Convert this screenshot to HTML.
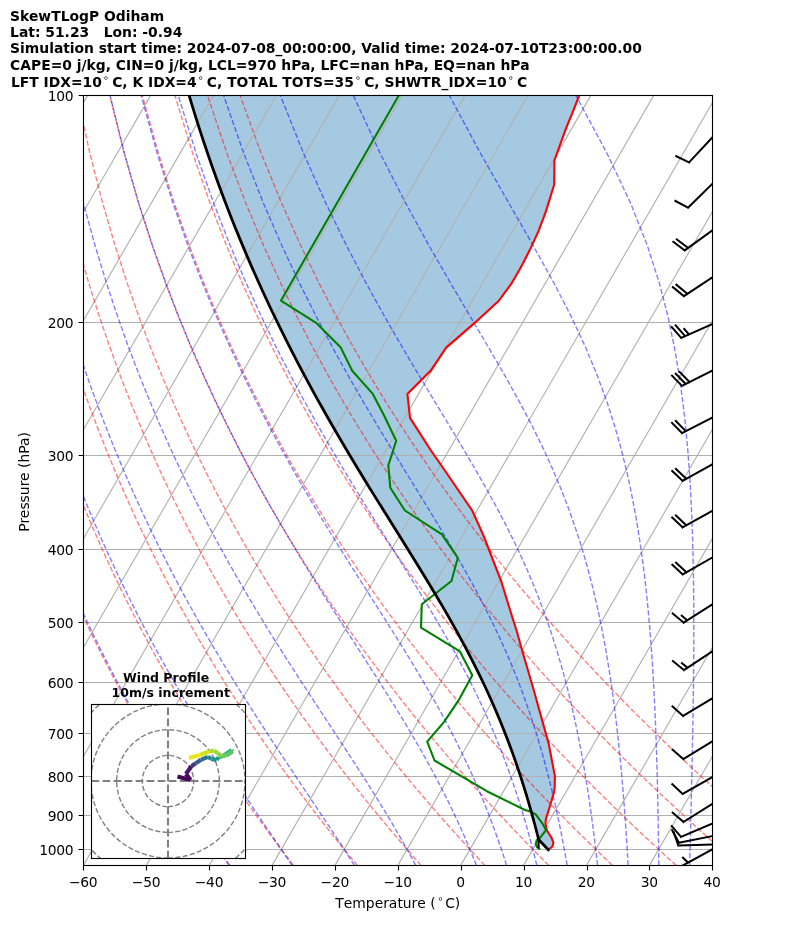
<!DOCTYPE html>
<html lang="en"><head><meta charset="utf-8"><title>SkewTLogP Odiham</title>
<style>html,body{margin:0;padding:0;background:#fff}body{width:794px;height:937px;overflow:hidden}svg{display:block}text{font-family:"DejaVu Sans","Liberation Sans",sans-serif;font-size:13.89px;fill:#000}.b{font-weight:bold}.g{stroke:#b0b0b0;stroke-width:1.11;fill:none}.da{stroke:#ff0000;stroke-opacity:.5;stroke-width:1.39;stroke-dasharray:5.14 2.22;fill:none}.ma{stroke:#0000ff;stroke-opacity:.5;stroke-width:1.39;stroke-dasharray:5.14 2.22;fill:none}.tk{stroke:#000;stroke-width:1.11}.t{letter-spacing:-0.28px}.brb{stroke:#000;stroke-width:2;fill:none;stroke-linejoin:miter;stroke-linecap:square}</style></head><body>
<svg width="794" height="937" viewBox="0 0 794 937">
<rect width="794" height="937" fill="#fff"/>
<defs><clipPath id="ax"><rect x="83.4" y="95.4" width="628.9" height="769.98"/></clipPath>
<clipPath id="hd"><rect x="91" y="704" width="154.5" height="154.5"/></clipPath></defs>
<g clip-path="url(#ax)">
<polygon points="548.3,849.8 538.61,839.43 538.19,837.73 536.6,831.5 534.98,825.26 533.3,819.02 531.58,812.78 529.82,806.54 528,800.31 526.14,794.07 524.22,787.83 522.26,781.59 520.24,775.35 518.16,769.11 516.03,762.88 513.84,756.64 511.59,750.4 509.29,744.16 506.92,737.92 504.49,731.69 502,725.45 499.45,719.21 496.83,712.97 494.15,706.73 491.4,700.5 488.59,694.26 485.72,688.02 482.78,681.78 479.77,675.54 476.7,669.3 473.57,663.07 470.38,656.83 467.13,650.59 463.82,644.35 460.45,638.11 457.03,631.88 453.55,625.64 450.03,619.4 446.45,613.16 442.84,606.92 439.18,600.69 435.48,594.45 431.74,588.21 427.98,581.97 424.18,575.73 420.36,569.5 416.52,563.26 412.66,557.02 408.78,550.78 404.9,544.54 401,538.3 397.1,532.07 393.2,525.83 389.3,519.59 385.41,513.35 381.52,507.11 377.64,500.88 373.78,494.64 369.92,488.4 366.09,482.16 362.27,475.92 358.48,469.69 354.7,463.45 350.95,457.21 347.23,450.97 343.53,444.73 339.86,438.5 336.22,432.26 332.6,426.02 329.02,419.78 325.47,413.54 321.95,407.3 318.46,401.07 315.01,394.83 311.59,388.59 308.2,382.35 304.85,376.11 301.53,369.88 298.24,363.64 295,357.4 291.78,351.16 288.6,344.92 285.46,338.69 282.35,332.45 279.27,326.21 276.23,319.97 273.23,313.73 270.26,307.5 267.32,301.26 264.42,295.02 261.55,288.78 258.72,282.54 255.92,276.3 253.16,270.07 250.43,263.83 247.74,257.59 245.08,251.35 242.45,245.11 239.86,238.88 237.3,232.64 234.77,226.4 232.28,220.16 229.82,213.92 227.39,207.69 225,201.45 222.64,195.21 220.31,188.97 218.01,182.73 215.74,176.5 213.51,170.26 211.3,164.02 209.13,157.78 206.99,151.54 204.89,145.3 202.81,139.07 200.76,132.83 198.75,126.59 196.76,120.35 194.8,114.11 192.88,107.88 190.98,101.64 189.12,95.4 579.3,95.3 572.5,112.7 566.2,127.8 561.2,141.6 554.4,160.5 554.2,184.5 546.1,210.9 538.5,231.1 531,247.4 523.4,262.5 519.3,270 511.2,283.9 498.6,301 475.2,322.4 446.2,347.6 430.6,370.8 407.4,393.9 410,417.9 430.6,450 444.5,470 472.2,510.5 483.5,535.6 501.1,581 511.2,613.7 516.4,630 522,650 533.5,689.2 548.6,743.4 554.9,776.1 554.7,786 554.2,791.2 551.7,800.2 548.7,810 545.8,819.4 545.5,824.5 547.1,830.8 551.5,837.7 553.4,842.7 552.4,846.5 549,849.3 548.3,849.8" fill="#1f77b4" fill-opacity=".4"/>
<path class="g" d="M-356.83 865.38L87.72 95.4M-293.94 865.38L150.61 95.4M-231.05 865.38L213.5 95.4M-168.16 865.38L276.39 95.4M-105.27 865.38L339.28 95.4M-42.38 865.38L402.17 95.4M20.51 865.38L465.06 95.4M83.4 865.38L527.95 95.4M146.29 865.38L590.84 95.4M209.18 865.38L653.73 95.4M272.07 865.38L716.62 95.4M334.96 865.38L779.51 95.4M397.85 865.38L842.4 95.4M460.74 865.38L905.29 95.4M523.63 865.38L968.18 95.4M586.52 865.38L1031.07 95.4M649.41 865.38L1093.96 95.4M712.3 865.38L1156.85 95.4"/>
<path d="M83.4 95.5H712.3M83.4 322.5H712.3M83.4 455.5H712.3M83.4 549.5H712.3M83.4 622.5H712.3M83.4 682.5H712.3M83.4 733.5H712.3M83.4 776.5H712.3M83.4 815.5H712.3M83.4 849.5H712.3" stroke="#b0b0b0" stroke-width="1" fill="none"/>
<polyline class="da" points="229.77,865.38 225.39,859.27 220.98,853.06 216.53,846.72 212.03,840.25 207.49,833.66 202.91,826.93 198.28,820.06 193.61,813.04 188.89,805.86 184.12,798.53 179.3,791.03 174.43,783.35 169.51,775.49 164.53,767.44 159.5,759.18 154.41,750.71 149.26,742.01 144.05,733.08 138.78,723.9 133.45,714.45 128.04,704.72 122.58,694.69 117.04,684.35 111.43,673.66 105.74,662.62 99.98,651.19 94.14,639.35 88.22,627.07 82.21,614.3 76.12,601.02 69.93,587.18 63.66,572.72 57.29,557.6 50.83,541.75 44.27,525.09 37.61,507.53 30.85,488.98 23.99,469.32 17.04,448.4 9.98,426.05 2.84,402.06 -4.38,376.18 -11.65,348.07 -18.96,317.33 -26.26,283.39 -33.48,245.53 -40.51,202.7 -47.16,153.43 -53.1,95.4"/>
<polyline class="da" points="293.54,865.38 288.83,859.27 284.07,853.06 279.27,846.72 274.42,840.25 269.52,833.66 264.58,826.93 259.58,820.06 254.54,813.04 249.43,805.86 244.28,798.53 239.07,791.03 233.8,783.35 228.47,775.49 223.08,767.44 217.63,759.18 212.11,750.71 206.52,742.01 200.87,733.08 195.15,723.9 189.35,714.45 183.48,704.72 177.52,694.69 171.49,684.35 165.38,673.66 159.17,662.62 152.88,651.19 146.5,639.35 140.02,627.07 133.44,614.3 126.75,601.02 119.96,587.18 113.06,572.72 106.05,557.6 98.92,541.75 91.66,525.09 84.28,507.53 76.77,488.98 69.13,469.32 61.36,448.4 53.45,426.05 45.41,402.06 37.24,376.18 28.95,348.07 20.57,317.33 12.12,283.39 3.65,245.53 -4.74,202.7 -12.89,153.43 -20.52,95.4"/>
<polyline class="da" points="357.31,865.38 352.26,859.27 347.16,853.06 342.01,846.72 336.81,840.25 331.56,833.66 326.25,826.93 320.88,820.06 315.46,813.04 309.98,805.86 304.44,798.53 298.83,791.03 293.17,783.35 287.43,775.49 281.63,767.44 275.76,759.18 269.81,750.71 263.79,742.01 257.69,733.08 251.51,723.9 245.25,714.45 238.91,704.72 232.47,694.69 225.95,684.35 219.33,673.66 212.61,662.62 205.78,651.19 198.86,639.35 191.82,627.07 184.66,614.3 177.39,601.02 169.99,587.18 162.46,572.72 154.8,557.6 147,541.75 139.05,525.09 130.95,507.53 122.69,488.98 114.27,469.32 105.68,448.4 96.92,426.05 87.98,402.06 78.86,376.18 69.56,348.07 60.1,317.33 50.5,283.39 40.78,245.53 31.03,202.7 21.37,153.43 12.05,95.4"/>
<polyline class="da" points="421.08,865.38 415.69,859.27 410.25,853.06 404.75,846.72 399.2,840.25 393.59,833.66 387.92,826.93 382.18,820.06 376.39,813.04 370.53,805.86 364.6,798.53 358.6,791.03 352.53,783.35 346.39,775.49 340.18,767.44 333.89,759.18 327.51,750.71 321.06,742.01 314.51,733.08 307.88,723.9 301.16,714.45 294.34,704.72 287.42,694.69 280.4,684.35 273.28,673.66 266.04,662.62 258.69,651.19 251.21,639.35 243.62,627.07 235.89,614.3 228.03,601.02 220.02,587.18 211.87,572.72 203.56,557.6 195.08,541.75 186.44,525.09 177.62,507.53 168.61,488.98 159.41,469.32 150,448.4 140.38,426.05 130.54,402.06 120.47,376.18 110.17,348.07 99.63,317.33 88.88,283.39 77.92,245.53 66.8,202.7 55.64,153.43 44.62,95.4"/>
<polyline class="da" points="484.86,865.38 479.13,859.27 473.34,853.06 467.5,846.72 461.59,840.25 455.62,833.66 449.59,826.93 443.48,820.06 437.31,813.04 431.07,805.86 424.76,798.53 418.37,791.03 411.9,783.35 405.36,775.49 398.73,767.44 392.01,759.18 385.21,750.71 378.32,742.01 371.33,733.08 364.25,723.9 357.06,714.45 349.77,704.72 342.37,694.69 334.86,684.35 327.23,673.66 319.47,662.62 311.59,651.19 303.57,639.35 295.42,627.07 287.12,614.3 278.66,601.02 270.05,587.18 261.27,572.72 252.31,557.6 243.17,541.75 233.83,525.09 224.29,507.53 214.53,488.98 204.55,469.32 194.33,448.4 183.85,426.05 173.11,402.06 162.09,376.18 150.78,348.07 139.17,317.33 127.26,283.39 115.05,245.53 102.57,202.7 89.9,153.43 77.2,95.4"/>
<polyline class="da" points="548.63,865.38 542.56,859.27 536.43,853.06 530.24,846.72 523.98,840.25 517.65,833.66 511.25,826.93 504.78,820.06 498.24,813.04 491.62,805.86 484.92,798.53 478.14,791.03 471.27,783.35 464.32,775.49 457.28,767.44 450.14,759.18 442.91,750.71 435.59,742.01 428.15,733.08 420.62,723.9 412.97,714.45 405.2,704.72 397.32,694.69 389.31,684.35 381.18,673.66 372.9,662.62 364.49,651.19 355.93,639.35 347.22,627.07 338.34,614.3 329.3,601.02 320.08,587.18 310.67,572.72 301.06,557.6 291.25,541.75 281.22,525.09 270.96,507.53 260.46,488.98 249.69,469.32 238.65,448.4 227.32,426.05 215.68,402.06 203.7,376.18 191.39,348.07 178.7,317.33 165.64,283.39 152.18,245.53 138.34,202.7 124.17,153.43 109.77,95.4"/>
<polyline class="da" points="612.4,865.38 606,859.27 599.52,853.06 592.98,846.72 586.37,840.25 579.68,833.66 572.92,826.93 566.08,820.06 559.17,813.04 552.16,805.86 545.08,798.53 537.9,791.03 530.64,783.35 523.28,775.49 515.83,767.44 508.27,759.18 500.62,750.71 492.85,742.01 484.97,733.08 476.98,723.9 468.87,714.45 460.63,704.72 452.27,694.69 443.77,684.35 435.12,673.66 426.34,662.62 417.39,651.19 408.29,639.35 399.02,627.07 389.57,614.3 379.93,601.02 370.11,587.18 360.07,572.72 349.82,557.6 339.34,541.75 328.61,525.09 317.63,507.53 306.38,488.98 294.83,469.32 282.97,448.4 270.79,426.05 258.24,402.06 245.32,376.18 231.99,348.07 218.23,317.33 204.02,283.39 189.31,245.53 174.12,202.7 158.44,153.43 142.35,95.4"/>
<polyline class="da" points="676.17,865.38 669.43,859.27 662.62,853.06 655.73,846.72 648.76,840.25 641.72,833.66 634.59,826.93 627.38,820.06 620.09,813.04 612.71,805.86 605.24,798.53 597.67,791.03 590.01,783.35 582.24,775.49 574.38,767.44 566.4,759.18 558.32,750.71 550.12,742.01 541.79,733.08 533.35,723.9 524.77,714.45 516.07,704.72 507.22,694.69 498.22,684.35 489.07,673.66 479.77,662.62 470.3,651.19 460.65,639.35 450.82,627.07 440.8,614.3 430.57,601.02 420.13,587.18 409.47,572.72 398.57,557.6 387.42,541.75 376,525.09 364.3,507.53 352.3,488.98 339.97,469.32 327.3,448.4 314.25,426.05 300.81,402.06 286.94,376.18 272.6,348.07 257.77,317.33 242.39,283.39 226.45,245.53 209.89,202.7 192.7,153.43 174.92,95.4"/>
<polyline class="da" points="739.95,865.38 732.87,859.27 725.71,853.06 718.47,846.72 711.15,840.25 703.75,833.66 696.26,826.93 688.68,820.06 681.02,813.04 673.26,805.86 665.4,798.53 657.44,791.03 649.38,783.35 641.21,775.49 632.93,767.44 624.53,759.18 616.02,750.71 607.38,742.01 598.61,733.08 589.72,723.9 580.68,714.45 571.5,704.72 562.17,694.69 552.68,684.35 543.02,673.66 533.2,662.62 523.2,651.19 513.01,639.35 502.62,627.07 492.02,614.3 481.21,601.02 470.16,587.18 458.87,572.72 447.33,557.6 435.51,541.75 423.39,525.09 410.97,507.53 398.22,488.98 385.11,469.32 371.62,448.4 357.72,426.05 343.38,402.06 328.55,376.18 313.21,348.07 297.3,317.33 280.77,283.39 263.58,245.53 245.66,202.7 226.97,153.43 207.49,95.4"/>
<polyline class="da" points="803.72,865.38 796.3,859.27 788.8,853.06 781.21,846.72 773.54,840.25 765.78,833.66 757.93,826.93 749.98,820.06 741.94,813.04 733.8,805.86 725.56,798.53 717.21,791.03 708.74,783.35 700.17,775.49 691.48,767.44 682.66,759.18 673.72,750.71 664.65,742.01 655.44,733.08 646.08,723.9 636.58,714.45 626.93,704.72 617.11,694.69 607.13,684.35 596.97,673.66 586.63,662.62 576.1,651.19 565.37,639.35 554.42,627.07 543.25,614.3 531.84,601.02 520.19,587.18 508.28,572.72 496.08,557.6 483.59,541.75 470.78,525.09 457.64,507.53 444.14,488.98 430.25,469.32 415.94,448.4 401.19,426.05 385.94,402.06 370.17,376.18 353.82,348.07 336.83,317.33 319.15,283.39 300.71,245.53 281.43,202.7 261.23,153.43 240.07,95.4"/>
<polyline class="ma" points="229.2,865.38 225.06,859.27 220.86,853.06 216.61,846.72 212.29,840.25 207.92,833.66 203.48,826.93 198.99,820.06 194.44,813.04 189.83,805.86 185.15,798.53 180.42,791.03 175.62,783.35 170.76,775.49 165.84,767.44 160.85,759.18 155.8,750.71 150.69,742.01 145.5,733.08 140.25,723.9 134.93,714.45 129.54,704.72 124.08,694.69 118.54,684.35 112.93,673.66 107.24,662.62 101.47,651.19 95.63,639.35 89.69,627.07 83.67,614.3 77.57,601.02 71.37,587.18 65.08,572.72 58.7,557.6 52.22,541.75 45.64,525.09 38.96,507.53 32.18,488.98 25.29,469.32 18.31,448.4 11.24,426.05 4.07,402.06 -3.18,376.18 -10.48,348.07 -17.83,317.33 -25.16,283.39 -32.41,245.53 -39.48,202.7 -46.17,153.43 -52.16,95.4"/>
<polyline class="ma" points="292.17,865.38 288.02,859.27 283.78,853.06 279.47,846.72 275.07,840.25 270.59,833.66 266.03,826.93 261.38,820.06 256.65,813.04 251.84,805.86 246.94,798.53 241.96,791.03 236.9,783.35 231.75,775.49 226.52,767.44 221.21,759.18 215.81,750.71 210.32,742.01 204.75,733.08 199.09,723.9 193.35,714.45 187.51,704.72 181.59,694.69 175.57,684.35 169.46,673.66 163.25,662.62 156.95,651.19 150.55,639.35 144.04,627.07 137.43,614.3 130.72,601.02 123.89,587.18 116.95,572.72 109.89,557.6 102.71,541.75 95.4,525.09 87.96,507.53 80.4,488.98 72.7,469.32 64.86,448.4 56.88,426.05 48.77,402.06 40.53,376.18 32.16,348.07 23.69,317.33 15.15,283.39 6.58,245.53 -1.91,202.7 -10.19,153.43 -17.95,95.4"/>
<polyline class="ma" points="354.42,865.38 350.54,859.27 346.55,853.06 342.45,846.72 338.23,840.25 333.91,833.66 329.47,826.93 324.92,820.06 320.25,813.04 315.46,805.86 310.56,798.53 305.54,791.03 300.4,783.35 295.14,775.49 289.76,767.44 284.27,759.18 278.65,750.71 272.91,742.01 267.06,733.08 261.08,723.9 254.99,714.45 248.78,704.72 242.44,694.69 235.98,684.35 229.41,673.66 222.7,662.62 215.88,651.19 208.93,639.35 201.85,627.07 194.63,614.3 187.29,601.02 179.8,587.18 172.18,572.72 164.41,557.6 156.49,541.75 148.42,525.09 140.18,507.53 131.78,488.98 123.21,469.32 114.46,448.4 105.52,426.05 96.41,402.06 87.1,376.18 77.6,348.07 67.93,317.33 58.1,283.39 48.14,245.53 38.12,202.7 28.16,153.43 18.5,95.4"/>
<polyline class="ma" points="415.79,865.38 412.5,859.27 409.1,853.06 405.58,846.72 401.92,840.25 398.13,833.66 394.21,826.93 390.14,820.06 385.93,813.04 381.56,805.86 377.05,798.53 372.37,791.03 367.53,783.35 362.53,775.49 357.36,767.44 352.01,759.18 346.5,750.71 340.81,742.01 334.95,733.08 328.92,723.9 322.7,714.45 316.31,704.72 309.75,694.69 303,684.35 296.08,673.66 288.99,662.62 281.72,651.19 274.27,639.35 266.65,627.07 258.85,614.3 250.87,601.02 242.71,587.18 234.36,572.72 225.83,557.6 217.11,541.75 208.19,525.09 199.07,507.53 189.74,488.98 180.2,469.32 170.42,448.4 160.41,426.05 150.16,402.06 139.66,376.18 128.89,348.07 117.86,317.33 106.57,283.39 95.03,245.53 83.29,202.7 71.44,153.43 59.64,95.4"/>
<polyline class="ma" points="476.43,865.38 474.01,859.27 471.48,853.06 468.84,846.72 466.09,840.25 463.21,833.66 460.2,826.93 457.06,820.06 453.77,813.04 450.32,805.86 446.72,798.53 442.94,791.03 438.98,783.35 434.83,775.49 430.49,767.44 425.94,759.18 421.17,750.71 416.17,742.01 410.94,733.08 405.46,723.9 399.73,714.45 393.75,704.72 387.5,694.69 380.98,684.35 374.18,673.66 367.11,662.62 359.76,651.19 352.14,639.35 344.23,627.07 336.05,614.3 327.58,601.02 318.85,587.18 309.83,572.72 300.55,557.6 290.98,541.75 281.14,525.09 271.03,507.53 260.62,488.98 249.93,469.32 238.94,448.4 227.64,426.05 216.01,402.06 204.04,376.18 191.72,348.07 179.03,317.33 165.96,283.39 152.5,245.53 138.65,202.7 124.46,153.43 110.05,95.4"/>
<polyline class="ma" points="506.64,865.38 504.68,859.27 502.64,853.06 500.5,846.72 498.26,840.25 495.92,833.66 493.47,826.93 490.9,820.06 488.2,813.04 485.36,805.86 482.37,798.53 479.23,791.03 475.92,783.35 472.44,775.49 468.76,767.44 464.88,759.18 460.79,750.71 456.47,742.01 451.91,733.08 447.08,723.9 441.99,714.45 436.61,704.72 430.93,694.69 424.94,684.35 418.62,673.66 411.97,662.62 404.97,651.19 397.61,639.35 389.9,627.07 381.82,614.3 373.38,601.02 364.57,587.18 355.4,572.72 345.86,557.6 335.96,541.75 325.71,525.09 315.1,507.53 304.13,488.98 292.8,469.32 281.11,448.4 269.05,426.05 256.6,402.06 243.75,376.18 230.48,348.07 216.77,317.33 202.6,283.39 187.95,245.53 172.8,202.7 157.18,153.43 141.15,95.4"/>
<polyline class="ma" points="536.86,865.38 535.36,859.27 533.79,853.06 532.16,846.72 530.44,840.25 528.64,833.66 526.76,826.93 524.77,820.06 522.68,813.04 520.49,805.86 518.17,798.53 515.72,791.03 513.14,783.35 510.4,775.49 507.5,767.44 504.43,759.18 501.17,750.71 497.7,742.01 494.01,733.08 490.08,723.9 485.9,714.45 481.43,704.72 476.67,694.69 471.58,684.35 466.15,673.66 460.34,662.62 454.15,651.19 447.54,639.35 440.49,627.07 432.99,614.3 425.02,601.02 416.57,587.18 407.62,572.72 398.17,557.6 388.22,541.75 377.78,525.09 366.84,507.53 355.41,488.98 343.49,469.32 331.1,448.4 318.23,426.05 304.87,402.06 291.01,376.18 276.64,348.07 261.74,317.33 246.27,283.39 230.2,245.53 213.51,202.7 196.17,153.43 178.22,95.4"/>
<polyline class="ma" points="567.15,865.38 566.09,859.27 564.97,853.06 563.8,846.72 562.58,840.25 561.29,833.66 559.94,826.93 558.53,820.06 557.03,813.04 555.45,805.86 553.79,798.53 552.03,791.03 550.16,783.35 548.19,775.49 546.09,767.44 543.85,759.18 541.47,750.71 538.93,742.01 536.22,733.08 533.31,723.9 530.19,714.45 526.84,704.72 523.24,694.69 519.35,684.35 515.15,673.66 510.62,662.62 505.71,651.19 500.39,639.35 494.62,627.07 488.37,614.3 481.58,601.02 474.23,587.18 466.26,572.72 457.65,557.6 448.36,541.75 438.37,525.09 427.67,507.53 416.24,488.98 404.1,469.32 391.25,448.4 377.69,426.05 363.45,402.06 348.53,376.18 332.93,348.07 316.63,317.33 299.61,283.39 281.84,245.53 263.26,202.7 243.84,153.43 223.53,95.4"/>
<polyline class="ma" points="597.57,865.38 596.89,859.27 596.17,853.06 595.43,846.72 594.64,840.25 593.82,833.66 592.96,826.93 592.04,820.06 591.08,813.04 590.07,805.86 589,798.53 587.86,791.03 586.66,783.35 585.38,775.49 584.02,767.44 582.57,759.18 581.02,750.71 579.36,742.01 577.58,733.08 575.67,723.9 573.61,714.45 571.38,704.72 568.98,694.69 566.37,684.35 563.54,673.66 560.45,662.62 557.07,651.19 553.37,639.35 549.31,627.07 544.84,614.3 539.9,601.02 534.44,587.18 528.38,572.72 521.66,557.6 514.2,541.75 505.91,525.09 496.72,507.53 486.55,488.98 475.33,469.32 463.03,448.4 449.62,426.05 435.09,402.06 419.47,376.18 402.78,348.07 385.04,317.33 366.27,283.39 346.47,245.53 325.59,202.7 303.57,153.43 280.32,95.4"/>
<polyline class="ma" points="628.13,865.38 627.78,859.27 627.41,853.06 627.03,846.72 626.62,840.25 626.19,833.66 625.74,826.93 625.27,820.06 624.77,813.04 624.23,805.86 623.67,798.53 623.07,791.03 622.43,783.35 621.74,775.49 621.01,767.44 620.23,759.18 619.39,750.71 618.49,742.01 617.52,733.08 616.47,723.9 615.33,714.45 614.1,704.72 612.76,694.69 611.3,684.35 609.7,673.66 607.94,662.62 606.01,651.19 603.87,639.35 601.5,627.07 598.87,614.3 595.93,601.02 592.63,587.18 588.91,572.72 584.7,557.6 579.92,541.75 574.47,525.09 568.22,507.53 561.04,488.98 552.77,469.32 543.22,448.4 532.22,426.05 519.59,402.06 505.19,376.18 488.91,348.07 470.75,317.33 450.74,283.39 428.95,245.53 405.45,202.7 380.25,153.43 353.29,95.4"/>
<polyline class="ma" points="658.83,865.38 658.76,859.27 658.68,853.06 658.6,846.72 658.51,840.25 658.41,833.66 658.3,826.93 658.18,820.06 658.06,813.04 657.92,805.86 657.76,798.53 657.6,791.03 657.41,783.35 657.21,775.49 657,767.44 656.75,759.18 656.49,750.71 656.19,742.01 655.87,733.08 655.51,723.9 655.11,714.45 654.67,704.72 654.17,694.69 653.62,684.35 653.01,673.66 652.32,662.62 651.54,651.19 650.67,639.35 649.68,627.07 648.56,614.3 647.28,601.02 645.82,587.18 644.14,572.72 642.2,557.6 639.95,541.75 637.32,525.09 634.23,507.53 630.58,488.98 626.23,469.32 621.01,448.4 614.7,426.05 607,402.06 597.55,376.18 585.92,348.07 571.61,317.33 554.14,283.39 533.17,245.53 508.59,202.7 480.56,153.43 449.3,95.4"/>
<polyline class="ma" points="689.68,865.38 689.84,859.27 689.99,853.06 690.15,846.72 690.31,840.25 690.47,833.66 690.64,826.93 690.8,820.06 690.97,813.04 691.14,805.86 691.32,798.53 691.49,791.03 691.67,783.35 691.85,775.49 692.02,767.44 692.2,759.18 692.37,750.71 692.54,742.01 692.71,733.08 692.88,723.9 693.04,714.45 693.19,704.72 693.33,694.69 693.46,684.35 693.58,673.66 693.67,662.62 693.75,651.19 693.8,639.35 693.81,627.07 693.79,614.3 693.72,601.02 693.59,587.18 693.38,572.72 693.09,557.6 692.68,541.75 692.13,525.09 691.41,507.53 690.46,488.98 689.24,469.32 687.64,448.4 685.57,426.05 682.87,402.06 679.3,376.18 674.56,348.07 668.17,317.33 659.44,283.39 647.33,245.53 630.42,202.7 607.04,153.43 575.87,95.4"/>
<polyline class="ma" points="720.66,865.38 720.99,859.27 721.33,853.06 721.67,846.72 722.03,840.25 722.4,833.66 722.77,826.93 723.16,820.06 723.56,813.04 723.97,805.86 724.39,798.53 724.83,791.03 725.27,783.35 725.74,775.49 726.21,767.44 726.7,759.18 727.2,750.71 727.72,742.01 728.25,733.08 728.8,723.9 729.37,714.45 729.95,704.72 730.55,694.69 731.17,684.35 731.81,673.66 732.47,662.62 733.14,651.19 733.84,639.35 734.55,627.07 735.28,614.3 736.04,601.02 736.81,587.18 737.59,572.72 738.38,557.6 739.19,541.75 739.99,525.09 740.8,507.53 741.59,488.98 742.34,469.32 743.05,448.4 743.68,426.05 744.17,402.06 744.47,376.18 744.47,348.07 744.02,317.33 742.84,283.39 740.52,245.53 736.27,202.7 728.67,153.43 714.92,95.4"/>
<polyline class="ma" points="751.75,865.38 752.21,859.27 752.69,853.06 753.18,846.72 753.68,840.25 754.2,833.66 754.74,826.93 755.29,820.06 755.86,813.04 756.45,805.86 757.06,798.53 757.68,791.03 758.33,783.35 759,775.49 759.69,767.44 760.41,759.18 761.15,750.71 761.92,742.01 762.72,733.08 763.54,723.9 764.4,714.45 765.29,704.72 766.21,694.69 767.18,684.35 768.18,673.66 769.22,662.62 770.31,651.19 771.45,639.35 772.63,627.07 773.87,614.3 775.17,601.02 776.53,587.18 777.96,572.72 779.46,557.6 781.04,541.75 782.7,525.09 784.46,507.53 786.31,488.98 788.27,469.32 790.34,448.4 792.53,426.05 794.85,402.06 797.31,376.18 799.91,348.07 802.64,317.33 805.49,283.39 808.4,245.53 811.25,202.7 813.78,153.43 815.34,95.4"/>
<polyline class="ma" points="782.94,865.38 783.5,859.27 784.07,853.06 784.67,846.72 785.28,840.25 785.91,833.66 786.56,826.93 787.23,820.06 787.93,813.04 788.64,805.86 789.38,798.53 790.15,791.03 790.94,783.35 791.75,775.49 792.6,767.44 793.48,759.18 794.39,750.71 795.33,742.01 796.31,733.08 797.33,723.9 798.39,714.45 799.49,704.72 800.64,694.69 801.83,684.35 803.08,673.66 804.39,662.62 805.75,651.19 807.18,639.35 808.68,627.07 810.26,614.3 811.92,601.02 813.67,587.18 815.51,572.72 817.46,557.6 819.53,541.75 821.73,525.09 824.07,507.53 826.57,488.98 829.25,469.32 832.13,448.4 835.24,426.05 838.6,402.06 842.27,376.18 846.28,348.07 850.7,317.33 855.59,283.39 861.07,245.53 867.24,202.7 874.27,153.43 882.34,95.4"/>
<polyline points="579.3,95.3 572.5,112.7 566.2,127.8 561.2,141.6 554.4,160.5 554.2,184.5 546.1,210.9 538.5,231.1 531,247.4 523.4,262.5 519.3,270 511.2,283.9 498.6,301 475.2,322.4 446.2,347.6 430.6,370.8 407.4,393.9 410,417.9 430.6,450 444.5,470 472.2,510.5 483.5,535.6 501.1,581 511.2,613.7 516.4,630 522,650 533.5,689.2 548.6,743.4 554.9,776.1 554.7,786 554.2,791.2 551.7,800.2 548.7,810 545.8,819.4 545.5,824.5 547.1,830.8 551.5,837.7 553.4,842.7 552.4,846.5 549,849.3 548.3,849.8" fill="none" stroke="#ff0000" stroke-width="2.08" stroke-linejoin="round"/>
<polyline points="398.9,95.3 280.9,300.7 316.9,323.4 340.8,347.6 352.2,370.8 372.8,393.9 383.7,414.8 396.2,440.8 389.2,462.7 388.3,465.1 390.3,487.8 404.9,510.5 441.9,534.4 457.8,557.8 451.5,581 421.8,604.2 421,627.6 459.9,651.4 472.3,675.3 459.2,699.3 444.1,721.9 427.2,741.6 434.5,760.5 486.9,791.2 525,810 530.3,811.5 535.7,814.4 542.7,823.9 546.1,830.2 540.2,837.7 536.7,840.2 535.7,844 537,847.2 540.2,849.5" fill="none" stroke="#008000" stroke-width="2.08" stroke-linejoin="round"/>
<polyline points="538.61,839.43 538.5,848.2" fill="none" stroke="#000" stroke-width="2.2" stroke-linejoin="round"/>
<polyline points="548.3,849.8 538.61,839.43 538.19,837.73 536.6,831.5 534.98,825.26 533.3,819.02 531.58,812.78 529.82,806.54 528,800.31 526.14,794.07 524.22,787.83 522.26,781.59 520.24,775.35 518.16,769.11 516.03,762.88 513.84,756.64 511.59,750.4 509.29,744.16 506.92,737.92 504.49,731.69 502,725.45 499.45,719.21 496.83,712.97 494.15,706.73 491.4,700.5 488.59,694.26 485.72,688.02 482.78,681.78 479.77,675.54 476.7,669.3 473.57,663.07 470.38,656.83 467.13,650.59 463.82,644.35 460.45,638.11 457.03,631.88 453.55,625.64 450.03,619.4 446.45,613.16 442.84,606.92 439.18,600.69 435.48,594.45 431.74,588.21 427.98,581.97 424.18,575.73 420.36,569.5 416.52,563.26 412.66,557.02 408.78,550.78 404.9,544.54 401,538.3 397.1,532.07 393.2,525.83 389.3,519.59 385.41,513.35 381.52,507.11 377.64,500.88 373.78,494.64 369.92,488.4 366.09,482.16 362.27,475.92 358.48,469.69 354.7,463.45 350.95,457.21 347.23,450.97 343.53,444.73 339.86,438.5 336.22,432.26 332.6,426.02 329.02,419.78 325.47,413.54 321.95,407.3 318.46,401.07 315.01,394.83 311.59,388.59 308.2,382.35 304.85,376.11 301.53,369.88 298.24,363.64 295,357.4 291.78,351.16 288.6,344.92 285.46,338.69 282.35,332.45 279.27,326.21 276.23,319.97 273.23,313.73 270.26,307.5 267.32,301.26 264.42,295.02 261.55,288.78 258.72,282.54 255.92,276.3 253.16,270.07 250.43,263.83 247.74,257.59 245.08,251.35 242.45,245.11 239.86,238.88 237.3,232.64 234.77,226.4 232.28,220.16 229.82,213.92 227.39,207.69 225,201.45 222.64,195.21 220.31,188.97 218.01,182.73 215.74,176.5 213.51,170.26 211.3,164.02 209.13,157.78 206.99,151.54 204.89,145.3 202.81,139.07 200.76,132.83 198.75,126.59 196.76,120.35 194.8,114.11 192.88,107.88 190.98,101.64 189.12,95.4" fill="none" stroke="#000" stroke-width="2.78" stroke-linejoin="round" stroke-linecap="square"/>
<path class="brb" d="M712.3 137.5L689.05 162.35M689.05 162.35L676.21 156.16"/>
<path class="brb" d="M712.3 183.9L687.99 207.71M687.99 207.71L675.43 200.97"/>
<path class="brb" d="M712.3 230.4L684.72 250.34M684.72 250.34L673.3 241.8M688.17 247.85L676.74 239.31"/>
<path class="brb" d="M712.3 277.4L683.89 296.14M683.89 296.14L672.85 287.12M687.44 293.8L676.4 284.78"/>
<path class="brb" d="M712.3 324L681.21 337.83M681.21 337.83L671.79 327.12M685.09 336.1L675.67 325.4M688.97 334.38L684.26 329.02"/>
<path class="brb" d="M712.3 370.5L681.94 385.87M681.94 385.87L672 375.65M685.73 383.95L675.79 373.73M689.52 382.03L679.58 371.81"/>
<path class="brb" d="M712.3 417.6L681.98 433.05M681.98 433.05L672.01 422.86M685.77 431.12L675.8 420.93"/>
<path class="brb" d="M712.3 464.3L682.56 480.83M682.56 480.83L672.23 471.01M686.27 478.77L675.94 468.94"/>
<path class="brb" d="M712.3 510.9L682.52 527.36M682.52 527.36L672.21 517.51M686.24 525.3L675.93 515.45"/>
<path class="brb" d="M712.3 557.5L682.78 574.43M682.78 574.43L672.32 564.74M686.47 572.31L676 562.62"/>
<path class="brb" d="M712.3 604.3L683.61 622.61M683.61 622.61L672.71 613.42M687.2 620.32L681.74 615.73"/>
<path class="brb" d="M712.3 651.3L683.91 670.06M683.91 670.06L672.86 661.05M687.45 667.72L681.93 663.21"/>
<path class="brb" d="M712.3 698.4L683.15 715.97M683.15 715.97L672.48 706.51"/>
<path class="brb" d="M712.3 741.3L683.28 759.08M683.28 759.08L672.55 749.7"/>
<path class="brb" d="M712.3 777.1L682.73 793.94M682.73 793.94L672.3 784.22"/>
<path class="brb" d="M712.3 803.9L683.47 821.98M683.47 821.98L672.63 812.71"/>
<path class="brb" d="M712.3 823.5L681.04 836.95M681.04 836.95L671.75 826.13"/>
<path class="brb" d="M712.3 836.1L678.92 842.7M678.92 842.7L672.1 830.17"/>
<path class="brb" d="M712.3 844.4L678.29 845.48M678.29 845.48L673.6 832.01"/>
<path class="brb" d="M712.3 849.3L682.48 865.69M688.06 862.62L682.92 857.68"/>
</g>
<rect x="83.5" y="95.5" width="629" height="770" fill="none" stroke="#000" stroke-width="1.11"/>
<path class="tk" d="M78.6 95.5H83.5M78.6 322.5H83.5M78.6 455.5H83.5M78.6 549.5H83.5M78.6 622.5H83.5M78.6 682.5H83.5M78.6 733.5H83.5M78.6 776.5H83.5M78.6 815.5H83.5M78.6 849.5H83.5M83.5 865.5V870.4M146.5 865.5V870.4M209.5 865.5V870.4M272.5 865.5V870.4M335.5 865.5V870.4M398.5 865.5V870.4M461.5 865.5V870.4M524.5 865.5V870.4M587.5 865.5V870.4M649.5 865.5V870.4M712.5 865.5V870.4"/>
<text class="t" x="73.4" y="100.7" text-anchor="end">100</text>
<text class="t" x="73.4" y="327.7" text-anchor="end">200</text>
<text class="t" x="73.4" y="460.7" text-anchor="end">300</text>
<text class="t" x="73.4" y="554.7" text-anchor="end">400</text>
<text class="t" x="73.4" y="627.7" text-anchor="end">500</text>
<text class="t" x="73.4" y="687.7" text-anchor="end">600</text>
<text class="t" x="73.4" y="738.7" text-anchor="end">700</text>
<text class="t" x="73.4" y="781.7" text-anchor="end">800</text>
<text class="t" x="73.4" y="820.7" text-anchor="end">900</text>
<text class="t" x="73.4" y="854.7" text-anchor="end">1000</text>
<text class="t" x="83.2" y="886.9" text-anchor="middle">−60</text>
<text class="t" x="146.09" y="886.9" text-anchor="middle">−50</text>
<text class="t" x="208.98" y="886.9" text-anchor="middle">−40</text>
<text class="t" x="271.87" y="886.9" text-anchor="middle">−30</text>
<text class="t" x="334.76" y="886.9" text-anchor="middle">−20</text>
<text class="t" x="397.65" y="886.9" text-anchor="middle">−10</text>
<text class="t" x="460.54" y="886.9" text-anchor="middle">0</text>
<text class="t" x="523.43" y="886.9" text-anchor="middle">10</text>
<text class="t" x="586.32" y="886.9" text-anchor="middle">20</text>
<text class="t" x="649.21" y="886.9" text-anchor="middle">30</text>
<text class="t" x="712.1" y="886.9" text-anchor="middle">40</text>
<text x="397.8" y="907.8" text-anchor="middle" style="font-kerning:none">Temperature (<tspan font-size="9.7px" dy="-6.2" dx="1.7">∘</tspan><tspan dy="6.2" dx="1.7">C)</tspan></text>
<text transform="translate(28.8 481.9) rotate(-90)" text-anchor="middle">Pressure (hPa)</text>
<text class="b" x="10.1" y="20.7">SkewTLogP Odiham</text>
<text class="b" x="10.1" y="37" xml:space="preserve">Lat: 51.23   Lon: -0.94</text>
<text class="b" x="10.1" y="53" textLength="631.7" lengthAdjust="spacing">Simulation start time: 2024-07-08_00:00:00, Valid time: 2024-07-10T23:00:00.00</text>
<text class="b" x="10.1" y="70.15">CAPE=0 j/kg, CIN=0 j/kg, LCL=970 hPa, LFC=nan hPa, EQ=nan hPa</text>
<text class="b" x="11.0" y="87.4" style="font-kerning:none">LFT IDX=10<tspan font-size="9.72px" font-weight="normal" dy="-6.5" dx="1.0">∘</tspan><tspan dy="6.5" dx="3.1">C, K IDX=4</tspan><tspan font-size="9.72px" font-weight="normal" dy="-6.5" dx="1.0">∘</tspan><tspan dy="6.5" dx="3.1">C, TOTAL TOTS=35</tspan><tspan font-size="9.72px" font-weight="normal" dy="-6.5" dx="1.0">∘</tspan><tspan dy="6.5" dx="3.1">C, SHWTR_IDX=10</tspan><tspan font-size="9.72px" font-weight="normal" dy="-6.5" dx="1.0">∘</tspan><tspan dy="6.5" dx="3.1">C</tspan></text>
<rect x="91" y="704" width="154.5" height="154.5" fill="#fff"/>
<g clip-path="url(#hd)">
<path d="M168 806.67A25.67 25.67 0 1 0 168 755.33A25.67 25.67 0 1 0 168 806.67" fill="none" stroke="#808080" stroke-width="1.39" stroke-dasharray="5.14 2.22"/>
<path d="M168 832.33A51.33 51.33 0 1 0 168 729.67A51.33 51.33 0 1 0 168 832.33" fill="none" stroke="#808080" stroke-width="1.39" stroke-dasharray="5.14 2.22"/>
<path d="M168 858A77 77 0 1 0 168 704A77 77 0 1 0 168 858" fill="none" stroke="#808080" stroke-width="1.39" stroke-dasharray="5.14 2.22"/>
<path d="M168 883.67A102.67 102.67 0 1 0 168 678.33A102.67 102.67 0 1 0 168 883.67" fill="none" stroke="#808080" stroke-width="1.39" stroke-dasharray="5.14 2.22"/>
<path d="M91.5 781H245.5M168 858.5V704.5" fill="none" stroke="#808080" stroke-width="2.08" stroke-dasharray="7.7 3.33"/>
<line x1="177.5" y1="776.6" x2="190.7" y2="780.1" stroke="#450457" stroke-width="4.17" stroke-linecap="butt"/>
<line x1="190.7" y1="780.1" x2="185.9" y2="774" stroke="#460b5e" stroke-width="4.17" stroke-linecap="butt"/>
<line x1="185.9" y1="774" x2="191.6" y2="766" stroke="#481a6c" stroke-width="4.17" stroke-linecap="butt"/>
<line x1="191.6" y1="766" x2="195.6" y2="763.4" stroke="#453781" stroke-width="4.17" stroke-linecap="butt"/>
<line x1="195.6" y1="763.4" x2="200.9" y2="759.8" stroke="#38598c" stroke-width="4.17" stroke-linecap="butt"/>
<line x1="200.9" y1="759.8" x2="207.9" y2="756.8" stroke="#2b758e" stroke-width="4.17" stroke-linecap="butt"/>
<line x1="207.9" y1="756.8" x2="211.4" y2="759" stroke="#23888e" stroke-width="4.17" stroke-linecap="butt"/>
<line x1="211.4" y1="759" x2="216.7" y2="760.1" stroke="#21918c" stroke-width="4.17" stroke-linecap="butt"/>
<line x1="216.7" y1="760.1" x2="218.3" y2="757.2" stroke="#1f9a8a" stroke-width="4.17" stroke-linecap="butt"/>
<line x1="218.3" y1="757.2" x2="222.9" y2="755.9" stroke="#21a685" stroke-width="4.17" stroke-linecap="butt"/>
<line x1="222.9" y1="755.9" x2="231.7" y2="750.1" stroke="#32b67a" stroke-width="4.17" stroke-linecap="butt"/>
<line x1="231.7" y1="750.1" x2="232.8" y2="751.5" stroke="#48c16e" stroke-width="4.17" stroke-linecap="butt"/>
<line x1="232.8" y1="751.5" x2="226.4" y2="755.4" stroke="#58c765" stroke-width="4.17" stroke-linecap="butt"/>
<line x1="226.4" y1="755.4" x2="221.6" y2="756.3" stroke="#6ece58" stroke-width="4.17" stroke-linecap="butt"/>
<line x1="221.6" y1="756.3" x2="217.6" y2="753.2" stroke="#86d549" stroke-width="4.17" stroke-linecap="butt"/>
<line x1="217.6" y1="753.2" x2="214.1" y2="750.6" stroke="#9dd93b" stroke-width="4.17" stroke-linecap="butt"/>
<line x1="214.1" y1="750.6" x2="208.8" y2="751.5" stroke="#b5de2b" stroke-width="4.17" stroke-linecap="butt"/>
<line x1="208.8" y1="751.5" x2="200" y2="755" stroke="#d2e21b" stroke-width="4.17" stroke-linecap="butt"/>
<line x1="200" y1="755" x2="189" y2="758.1" stroke="#efe51c" stroke-width="4.17" stroke-linecap="butt"/>
</g>
<rect x="91.5" y="704.5" width="154" height="154" fill="none" stroke="#000" stroke-width="1.11"/>
<text class="b" x="166.2" y="682" text-anchor="middle" style="font-size:12.5px">Wind Profile</text>
<text class="b" x="170.75" y="696.7" text-anchor="middle" style="font-size:12.5px">10m/s increment</text>
</svg></body></html>
